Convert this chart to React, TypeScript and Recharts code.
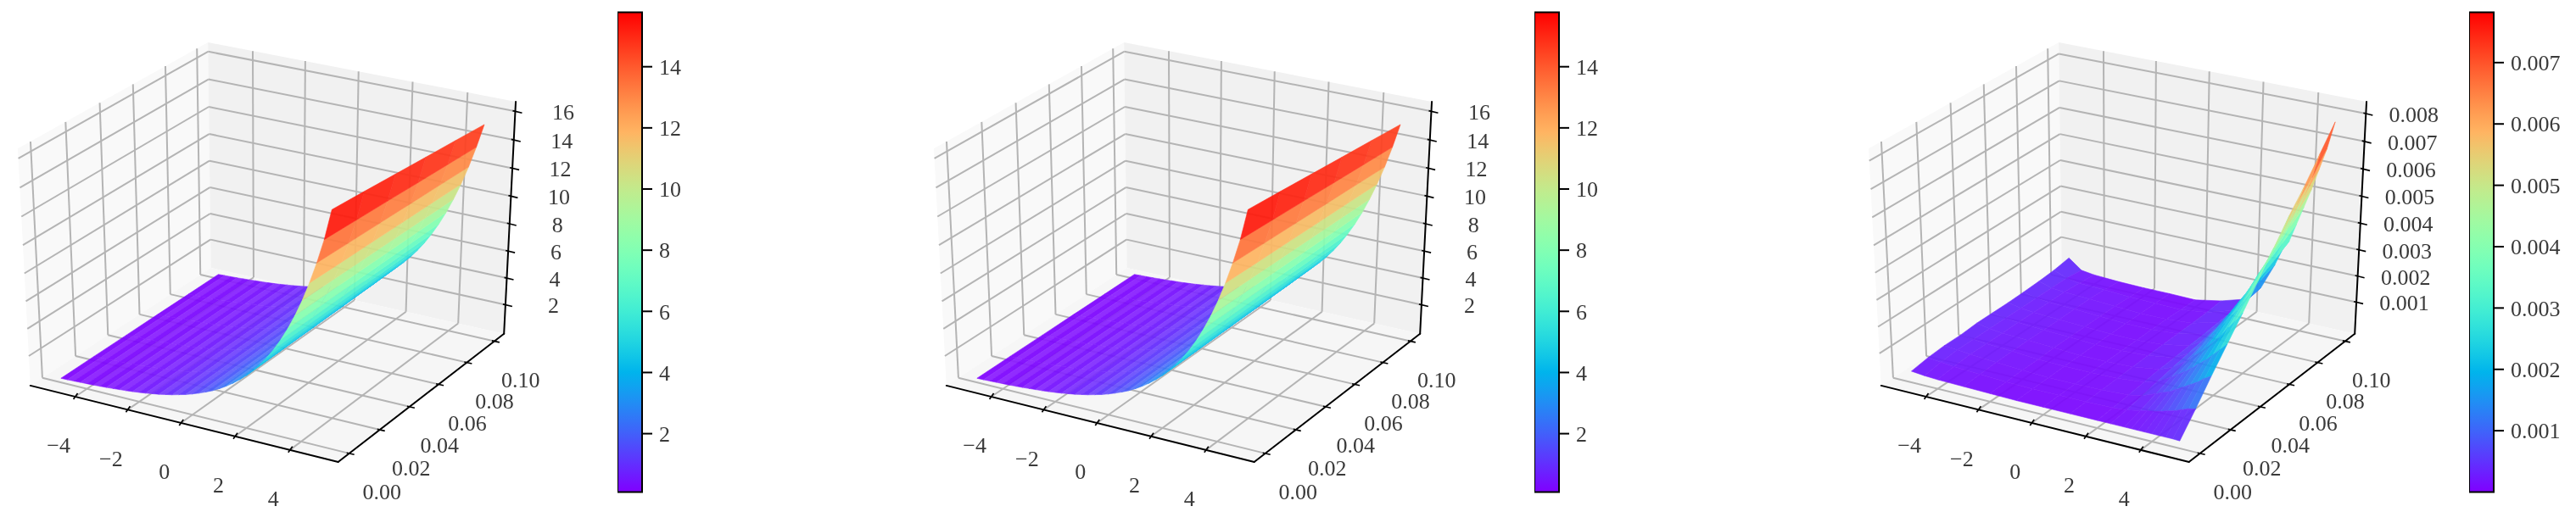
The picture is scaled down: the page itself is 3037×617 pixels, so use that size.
import React from 'react';
import { ScatterChart, Scatter, XAxis, YAxis, AreaChart, Area, ReferenceArea } from 'recharts';

// ---------- data ----------
const xGrid = [-5,-4.75,-4.5,-4.25,-4,-3.75,-3.5,-3.25,-3,-2.75,-2.5,-2.25,-2,-1.75,-1.5,-1.25,-1,-0.75,-0.5,-0.25,0,0.25,0.5,0.75,1,1.25,1.5,1.75,2,2.25,2.5,2.75,3,3.25,3.5,3.75,4,4.25,4.5,4.75,5];
const tRows = [0, 0.02, 0.04, 0.06, 0.08, 0.1];
const valueT00 = [0.11,0.12,0.14,0.16,0.18,0.2,0.23,0.26,0.3,0.34,0.38,0.43,0.49,0.55,0.63,0.71,0.81,0.91,1.04,1.17,1.33,1.51,1.71,1.93,2.19,2.49,2.82,3.2,3.62,4.1,4.65,5.27,5.96,6.76,7.66,8.68,9.83,11.14,12.62,14.3,16.4];
const valueT02 = [0.12,0.13,0.15,0.17,0.19,0.21,0.24,0.27,0.31,0.35,0.4,0.45,0.51,0.57,0.65,0.73,0.83,0.94,1.07,1.2,1.36,1.54,1.74,1.96,2.22,2.52,2.85,3.23,3.65,4.13,4.67,5.28,5.97,6.76,7.64,8.65,9.78,11.06,12.51,14.16,16.18];
const valueT04 = [0.12,0.14,0.16,0.18,0.2,0.22,0.25,0.28,0.32,0.37,0.41,0.47,0.53,0.59,0.67,0.76,0.86,0.96,1.09,1.23,1.39,1.57,1.77,2.0,2.26,2.55,2.88,3.26,3.68,4.15,4.69,5.3,5.98,6.76,7.63,8.62,9.73,10.99,12.41,14.02,15.95];
const valueT06 = [0.13,0.14,0.16,0.18,0.21,0.24,0.27,0.3,0.34,0.38,0.43,0.48,0.54,0.61,0.69,0.78,0.88,0.99,1.12,1.26,1.42,1.6,1.81,2.03,2.29,2.59,2.92,3.29,3.7,4.18,4.71,5.31,5.98,6.75,7.61,8.58,9.68,10.91,12.3,13.87,15.72];
const valueT08 = [0.13,0.15,0.17,0.19,0.22,0.25,0.28,0.31,0.35,0.4,0.44,0.5,0.56,0.63,0.71,0.81,0.91,1.01,1.14,1.29,1.45,1.63,1.84,2.07,2.33,2.62,2.95,3.32,3.73,4.2,4.73,5.33,5.99,6.75,7.6,8.55,9.63,10.84,12.2,13.73,15.5];
const valueT10 = [0.14,0.16,0.18,0.2,0.23,0.26,0.29,0.32,0.36,0.41,0.46,0.52,0.58,0.65,0.73,0.83,0.93,1.04,1.17,1.32,1.48,1.66,1.87,2.1,2.36,2.65,2.98,3.35,3.76,4.23,4.75,5.34,6.0,6.75,7.58,8.52,9.58,10.76,12.09,13.59,15.27];

const errXGrid = [-5,-4.5,-4,-3,-2,-1,0,1,2,2.5,3,3.25,3.5,3.75,4,4.25,4.5,4.75,5];
const errTGrid = [0,0.01,0.02,0.03,0.04,0.05,0.06,0.07,0.08,0.09,0.1];
// values in units of 1e-4
const errT00 = [2,1.5,1.2,1,0.8,0.6,0.6,0.6,0.6,0.6,0.6,0.6,0.6,0.6,0.6,0.6,0.6,0.6,0.5];
const errT01 = [3,2.5,2,1.5,1,0.8,0.8,0.8,1,1.4,2.4,3,3.4,4,4.8,5.5,6.5,7.5,8];
const errT02 = [3.5,3,2.5,1.8,1.2,0.8,0.8,1,1.5,2.5,4.5,5.6,6.5,8,9.5,11,12.5,14.5,16];
const errT03 = [3.5,3,2.5,2,1.2,1,1,1.2,2.2,3.7,6.5,8.2,9.8,11.8,14,16,18.5,21,23.5];
const errT04 = [4,3,2.5,2,1.5,1,1,1.4,2.8,4.8,8.5,11,12.8,15.5,18.5,21,24.5,27.5,31];
const errT05 = [4,3,2.5,2,1.5,1,1,1.5,3.2,5.8,10.5,13.5,16,19.5,23,26,30,34,39];
const errT06 = [4,3,2.5,2,1.5,1,1,1.6,3.6,6.8,12.7,16,19,23,27,31,36,41,47];
const errT07 = [4.2,3,2.5,2,1.5,1,1,1.7,4,8,15,19,22,27,32,36,42,48,55];
const errT08 = [4.5,3,2.5,2,1.5,1,1,1.8,4.5,9,17,21.5,25,31,36.5,42,48,55,62];
const errT09 = [5,3,2,1.8,1.2,1,0.8,2,5,10,19,24,28,34.5,41,47,54,61,70];
const errT10 = [6,2.2,1.5,1,0.8,0.8,0.6,2.5,5.5,11,21,27,31,38,45,52,60,68,78];
const errRows = [errT00,errT01,errT02,errT03,errT04,errT05,errT06,errT07,errT08,errT09,errT10];
const errUnit = 1e-4;

const xTicks = [-4,-2,0,2,4];
const tTicks = [0,0.02,0.04,0.06,0.08,0.1];
const valueZTicks = [2,4,6,8,10,12,14,16];
const errZTicks = [0.001,0.002,0.003,0.004,0.005,0.006,0.007,0.008];
const valueBarTicks = [2,4,6,8,10,12,14];
const errBarTicks = [0.001,0.002,0.003,0.004,0.005,0.006,0.007];

// ---------- styling ----------
const FONT = '"Liberation Serif", serif';
const FS = 26;
const TXT = '#3a3a3a';
const GRID = '#b4b4b4';
const STOPS = Array.from({ length: 33 }, (_, i) => i / 32);
const SY = 3192, SX = 4189, X0 = 319.3, Y0 = 289, H = 617, PW = 720;

function rainbow(f: number, lighten = 0) {
  const v = Math.max(0, Math.min(1, f));
  const r = Math.min(1, Math.abs(2 * v - 0.5));
  const g = Math.sin(Math.PI * v);
  const b = Math.cos((Math.PI * v) / 2);
  const h = (c: number) => Math.round((Math.max(0, c) * (1 - lighten) + lighten) * 255);
  return `rgb(${h(r)},${h(g)},${h(b)})`;
}

type Box = { x: number[]; t: number[]; z: number[] };
function projector(box: Box) {
  return (x: number, t: number, z: number) => {
    const a = (x - box.x[0]) / (box.x[1] - box.x[0]) - 0.5;
    const b = (t - box.t[0]) / (box.t[1] - box.t[0]) - 0.5;
    const c = (z - box.z[0]) / (box.z[1] - box.z[0]) - 0.5;
    const U = 0.866 * a + 0.5 * b;
    const V = -0.25 * a + 0.433 * b + 0.866 * c;
    const N = 0.433 * a - 0.75 * b + 0.5 * c;
    return { px: U / (10 - N), py: V / (10 - N), depth: N };
  };
}

const Empty = () => <g />;

function layerProps(data: any[], draw: (pts: any[]) => React.ReactNode, opacity = 1) {
  return {
    data,
    isAnimationActive: false,
    shape: Empty,
    line: (p: any) => <g opacity={opacity}>{draw(p.points)}</g>,
  };
}

function poly(pts: any[]) {
  return pts.map((q) => `${q.x},${q.y}`).join(' ');
}

type PanelCfg = {
  left: number;
  box: Box;
  xs: number[];
  ts: number[];
  rows: number[][];
  zTicks: number[];
  zFmt: (v: number) => string;
  cMin: number;
  cMax: number;
  stripes: boolean;
};

function Panel({ cfg }: { cfg: PanelCfg }) {
  const P = projector(cfg.box);
  const [x0, x1] = cfg.box.x;
  const [t0, t1] = cfg.box.t;
  const [z0, z1] = cfg.box.z;

  const panes = [
    P(x0, t0, z0), P(x0, t1, z0), P(x0, t1, z1), P(x0, t0, z1),
    P(x0, t1, z0), P(x1, t1, z0), P(x1, t1, z1), P(x0, t1, z1),
    P(x0, t0, z0), P(x1, t0, z0), P(x1, t1, z0), P(x0, t1, z0),
  ];
  const paneFill = ['#f9f9f9', '#f1f1f1', '#f6f6f6'];

  const grid: any[] = [];
  xTicks.forEach((x) => grid.push(P(x, t0, z0), P(x, t1, z0), P(x, t1, z0), P(x, t1, z1)));
  tTicks.forEach((t) => grid.push(P(x1, t, z0), P(x0, t, z0), P(x0, t, z0), P(x0, t, z1)));
  cfg.zTicks.forEach((z) => grid.push(P(x0, t0, z), P(x0, t1, z), P(x0, t1, z), P(x1, t1, z)));

  const axes = [P(x0, t0, z0), P(x1, t0, z0), P(x1, t0, z0), P(x1, t1, z0), P(x1, t1, z0), P(x1, t1, z1)];

  const xMarks = xTicks.map((x) => ({ ...P(x, t0, z0), text: x < 0 ? `\u2212${-x}` : `${x}`, kind: 'x', f: 0 }));
  const tMarks = tTicks.map((t, i) => ({ ...P(x1, t, z0), text: t.toFixed(2), kind: 't', f: i / (tTicks.length - 1) }));
  const zMarks = cfg.zTicks.map((z) => ({ ...P(x1, t1, z), text: cfg.zFmt(z), kind: 'z', f: 0 }));
  const marks = [...xMarks, ...tMarks, ...zMarks];

  const mesh: any[] = [];
  cfg.rows.forEach((row, j) => row.forEach((v, i) => mesh.push(P(cfg.xs[i], cfg.ts[j], v))));
  const nx = cfg.xs.length;
  const quads: { idx: number[]; color: string; d: number }[] = [];
  for (let j = 0; j + 1 < cfg.rows.length; j++) {
    for (let i = 0; i + 1 < nx; i++) {
      const idx = [j * nx + i, j * nx + i + 1, (j + 1) * nx + i + 1, (j + 1) * nx + i];
      const mean = (cfg.rows[j][i] + cfg.rows[j][i + 1] + cfg.rows[j + 1][i + 1] + cfg.rows[j + 1][i]) / 4;
      const d = idx.reduce((s, k) => s + mesh[k].depth, 0) / 4;
      const f = (mean - cfg.cMin) / (cfg.cMax - cfg.cMin);
      quads.push({ idx, color: rainbow(f, cfg.stripes && i % 2 === 1 && f < 0.2 ? 0.1 : 0), d });
    }
  }
  quads.sort((a, b) => a.d - b.d);

  const domX = [(0 - X0) / SX, (PW - X0) / SX];
  const domY = [(Y0 - H) / SY, Y0 / SY];

  return (
    <div style={{ position: 'absolute', left: cfg.left, top: 0 }}>
      <ScatterChart width={PW} height={H} margin={{ top: 0, right: 0, bottom: 0, left: 0 }}>
        <XAxis type="number" dataKey="px" domain={domX} hide allowDataOverflow />
        <YAxis type="number" dataKey="py" domain={domY} hide allowDataOverflow />
        <Scatter
          {...layerProps(panes, (pts) =>
            paneFill.map((c, i) => <polygon key={i} points={poly(pts.slice(i * 4, i * 4 + 4))} fill={c} stroke="none" />),
          )}
        />
        <Scatter
          {...layerProps(grid, (pts) => {
            const out: any[] = [];
            for (let i = 0; i + 1 < pts.length; i += 2)
              out.push(<line key={i} x1={pts[i].x} y1={pts[i].y} x2={pts[i + 1].x} y2={pts[i + 1].y} stroke={GRID} strokeWidth={2} />);
            return out;
          })}
        />
        <Scatter
          {...layerProps(axes, (pts) => {
            const out: any[] = [];
            for (let i = 0; i + 1 < pts.length; i += 2)
              out.push(<line key={i} x1={pts[i].x} y1={pts[i].y} x2={pts[i + 1].x} y2={pts[i + 1].y} stroke="#000" strokeWidth={2} strokeLinecap="round" />);
            return out;
          })}
        />
        <Scatter
          {...layerProps(marks, (pts) =>
            pts.map((q, i) => {
              const m = marks[i];
              const seg = m.kind === 'x' ? [3, -4, -2, 3] : m.kind === 't' ? [-3, -0.6, 6, 1.4] : [-3, -0.7, 8, 2];
              const off = m.kind === 'x' ? [-19.5, 57.5] : m.kind === 't' ? [38.5 - 7.5 * m.f, 45.5] : [56.5, 1];
              return (
                <g key={i}>
                  <line x1={q.x + seg[0]} y1={q.y + seg[1]} x2={q.x + seg[2]} y2={q.y + seg[3]} stroke="#000" strokeWidth={1.7} />
                  <text x={q.x + off[0]} y={q.y + off[1]} dy="0.34em" textAnchor="middle" fontFamily={FONT} fontSize={FS} fill={TXT}>
                    {m.text}
                  </text>
                </g>
              );
            }),
          )}
        />
        <Scatter
          {...layerProps(
            mesh,
            (pts) =>
              quads.map((q, i) => (
                <polygon key={i} points={poly(q.idx.map((k) => pts[k]))} fill={q.color} stroke={q.color} strokeWidth={0.6} strokeLinejoin="round" />
              )),
            0.93,
          )}
        />
      </ScatterChart>
    </div>
  );
}

function ColorBar({ left, id, min, max, ticks, fmt }: any) {
  const data = [{ k: 0, v: max }, { k: 1, v: max }];
  return (
    <div style={{ position: 'absolute', left, top: 0 }}>
      <AreaChart width={124} height={H} data={data} margin={{ top: 14.5, right: 0, bottom: 36.5, left: 0 }}>
        <defs>
          <linearGradient id={id} x1="0" y1="1" x2="0" y2="0">
            {STOPS.map((s) => (
              <stop key={s} offset={s} stopColor={rainbow(s)} />
            ))}
          </linearGradient>
        </defs>
        <XAxis type="number" dataKey="k" domain={[0, 1]} hide />
        <YAxis
          orientation="right"
          type="number"
          domain={[min, max]}
          ticks={ticks}
          tickFormatter={fmt}
          width={95}
          axisLine={false}
          tickLine={{ stroke: '#000', strokeWidth: 2 }}
          tickSize={12}
          tickMargin={8}
          interval={0}
          allowDataOverflow
          tick={{ fontFamily: FONT, fontSize: FS, fill: TXT }}
        />
        <Area dataKey="v" baseValue={min} stroke="none" fill={`url(#${id})`} fillOpacity={1} isAnimationActive={false} dot={false} activeDot={false} />
        <ReferenceArea x1={0} x2={1} y1={min} y2={max} fill="none" stroke="#000" strokeWidth={2} ifOverflow="visible" />
      </AreaChart>
    </div>
  );
}

const valueRows = [valueT00, valueT02, valueT04, valueT06, valueT08, valueT10];
const valueBox: Box = { x: [-5.73, 5.73], t: [-0.0071, 0.1071], z: [-0.2, 16.66] };
const errBox: Box = { x: [-5.73, 5.73], t: [-0.0071, 0.1071], z: [-0.00023, 0.00842] };
const errValues = errRows.map((r) => r.map((v) => v * errUnit));

export default function App() {
  const fmt3 = (v: number) => v.toFixed(3);
  const fmt0 = (v: number) => `${v}`;
  return (
    <div style={{ position: 'absolute', left: 0, top: 0, width: 3037, height: 617, overflow: 'hidden', background: '#fff', filter: 'blur(0.6px)' }}>
      <Panel cfg={{ left: 0, box: valueBox, xs: xGrid, ts: tRows, rows: valueRows, zTicks: valueZTicks, zFmt: fmt0, cMin: 0.09, cMax: 15.78, stripes: true }} />
      <ColorBar left={728} id="cb1" min={0.09} max={15.78} ticks={valueBarTicks} fmt={fmt0} />
      <Panel cfg={{ left: 1080, box: valueBox, xs: xGrid, ts: tRows, rows: valueRows, zTicks: valueZTicks, zFmt: fmt0, cMin: 0.09, cMax: 15.78, stripes: true }} />
      <ColorBar left={1809} id="cb2" min={0.09} max={15.78} ticks={valueBarTicks} fmt={fmt0} />
      <Panel cfg={{ left: 2182, box: errBox, xs: errXGrid, ts: errTGrid, rows: errValues, zTicks: errZTicks, zFmt: fmt3, cMin: 0, cMax: 0.00782, stripes: false }} />
      <ColorBar left={2911} id="cb3" min={0} max={0.00782} ticks={errBarTicks} fmt={fmt3} />
    </div>
  );
}
